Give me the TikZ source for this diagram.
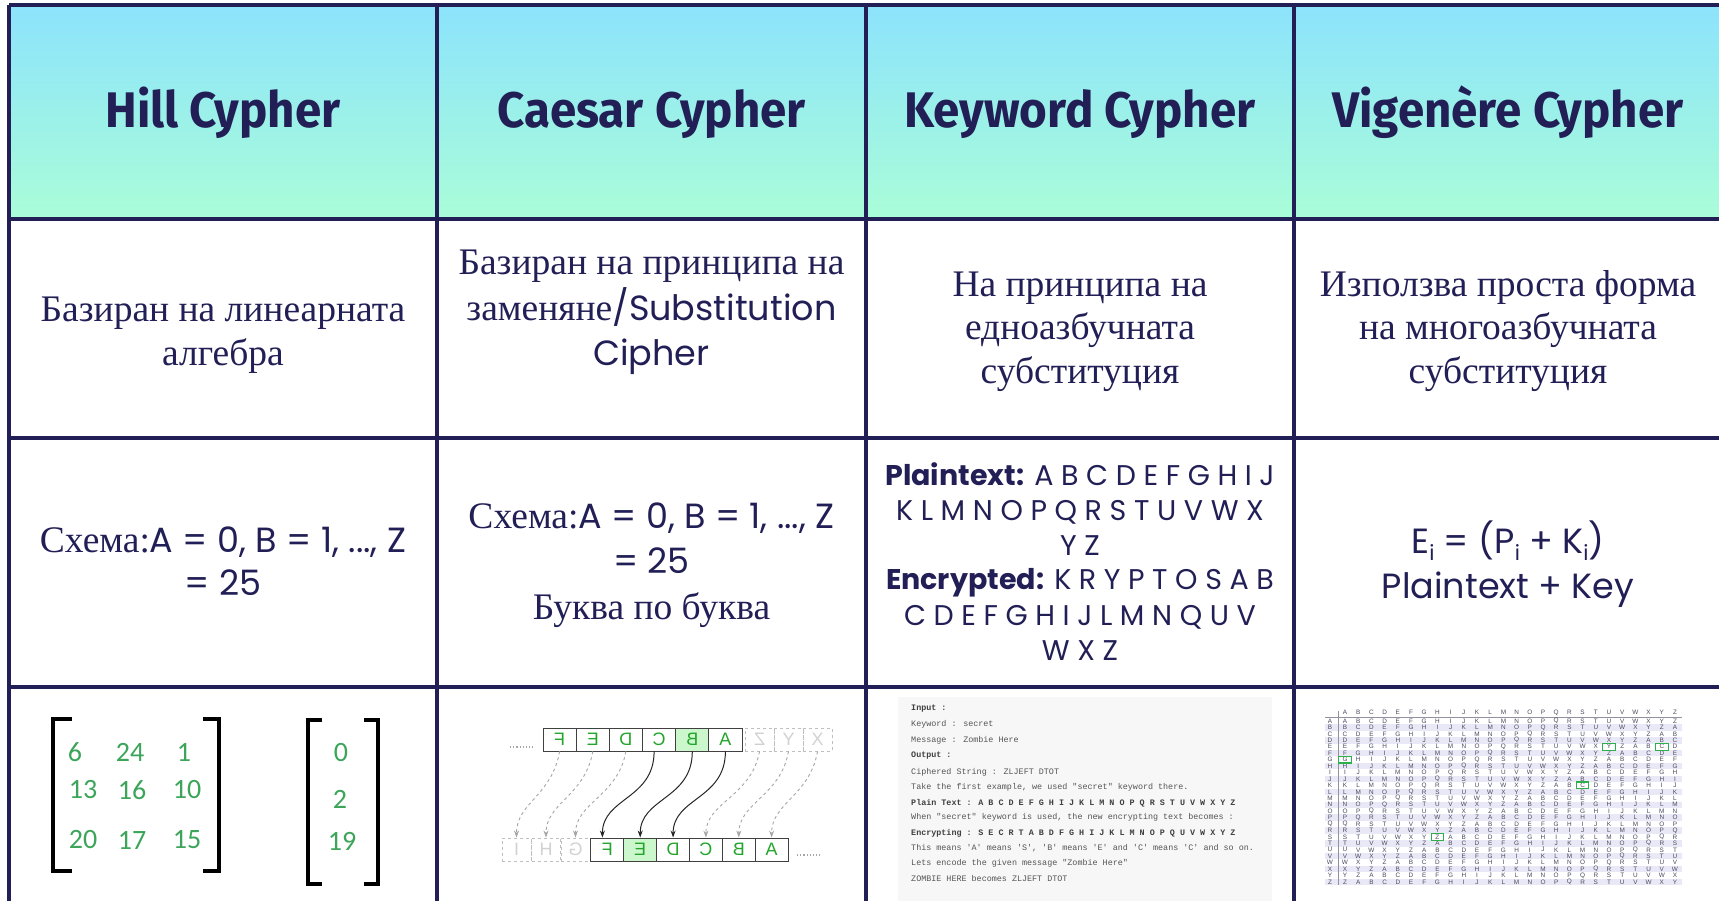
\documentclass[tikz,border=0pt]{standalone}
\usepackage{graphicx}
\usepackage{fontspec}
\setmainfont{Liberation Serif}
\newfontfamily\sansf{Poppins}
\newfontfamily\headf{Fira Sans}
\newfontfamily\monof{Liberation Mono}
\newfontfamily\tabf{Liberation Sans}
\newfontfamily\numf{Carlito}
\usetikzlibrary{arrows.meta}
\definecolor{navy}{HTML}{211F56}
\definecolor{hdtop}{HTML}{8CE3FC}
\definecolor{hdbot}{HTML}{AAFDD8}
\definecolor{hgreen}{HTML}{3CA55A}
\definecolor{cgreen}{HTML}{22A52A}
\definecolor{chl}{HTML}{CCF7CC}
\definecolor{kwbg}{HTML}{F7F7F7}
\definecolor{kwtxt}{HTML}{555555}
\definecolor{vshade}{HTML}{E8E8F6}
\definecolor{vtxt}{HTML}{4A4A5E}
\definecolor{vgreen}{HTML}{2DB04A}
\newcommand\ssz{\sansf\fontsize{35}{42}\selectfont}
\newcommand\subi{\raisebox{-7pt}{\fontsize{21}{21}\selectfont i}}
\newcommand\hx[1]{\scalebox{0.95}[1]{#1}}
\newcommand\sq{\char"27\relax}
\newcommand\dq{\char"22\relax}
\tikzset{
  vline/.style={draw=navy, line width=3.5pt},
  hline/.style={draw=navy, line width=4pt},
  head/.style={anchor=base, inner sep=0pt, text=navy, font=\headf\bfseries\fontsize{50}{60}\selectfont},
  serif/.style={anchor=base, inner sep=0pt, text=navy, font=\fontsize{37.5}{43}\selectfont},
  sans/.style={anchor=base, inner sep=0pt, text=navy, font=\ssz},
  kw/.style={anchor=base, inner sep=0pt, text=navy, font=\sansf\fontsize{28.5}{35}\selectfont},
  hnum/.style={inner sep=0pt, text=hgreen, font=\numf\fontsize{28}{28}\selectfont},
  bracket/.style={draw=black, line width=3.5pt, line join=miter},
  cbox/.style={draw=black!75, line width=0.9pt, minimum width=33.2pt, minimum height=23pt, inner sep=0pt, text=cgreen, font=\tabf\fontsize{18}{18}\selectfont},
  gbox/.style={draw=black!25, dashed, line width=0.9pt, minimum width=29pt, minimum height=23pt, inner sep=0pt, text=black!18, font=\tabf\fontsize{18}{18}\selectfont},
  carr/.style={draw=black!85, line width=1pt, -{Stealth[length=7pt,width=5pt]}},
  garr/.style={draw=black!35, dashed, line width=0.9pt, -{Stealth[length=7pt,width=5pt]}},
  mono/.style={anchor=west, inner sep=0pt, text=kwtxt, font=\monof\fontsize{8.4}{10}\selectfont},
  monob/.style={mono, text=black!75, font=\monof\bfseries\fontsize{8.4}{10}\selectfont},
  vt/.style={inner sep=0pt, text=vtxt, font=\tabf\fontsize{6.4}{6.4}\selectfont},
  vbox/.style={draw=vgreen, line width=1.1pt}
}
\begin{document}
\begin{tikzpicture}[x=1pt,y=-1pt]
\useasboundingbox (0,0) rectangle (1719,901);
\fill[white] (0,0) rectangle (1719,901);
% header gradient
\shade[top color=hdtop, bottom color=hdbot] (9,5) rectangle (1722,219);
% grid
\foreach \yy in {5,219,438,687} \draw[hline] (9,\yy) -- (1722,\yy);
\foreach \xx in {9,437,866,1294,1722} \draw[vline] (\xx,5) -- (\xx,910);
% headers
\node[head] (h1) at (223,128) {\hx{Hill Cypher}};
\node[head] (h2) at (651.5,128) {\hx{Caesar Cypher}};
\node[head] (h3) at (1080,128) {\hx{Keyword Cypher}};
\node[head] (h4) at (1508,128) {\hx{Vigenère Cypher}};
% row 2
\node[serif] (a1) at (223,322) {Базиран на линеарната};
\node[serif] (a2) at (223,365) {алгебра};
\node[serif] (b1) at (651.5,275) {Базиран на принципа на};
\node[serif] (b2) at (651.5,320) {заменяне{\ssz/Substitution}};
\node[sans] (b3) at (651.5,365) {Cipher};
\node[serif] (c1) at (1080,297) {На принципа на};
\node[serif] (c2) at (1080,340) {едноазбучната};
\node[serif] (c3) at (1080,383) {субституция};
\node[serif] (d1) at (1508,297) {Използва проста форма};
\node[serif] (d2) at (1508,340) {на многоазбучната};
\node[serif] (d3) at (1508,383) {субституция};
% row 3
\node[serif] (e1) at (223,552) {Схема:{\ssz A = 0, B = 1, ..., Z}};
\node[sans] (e2) at (223,595) {= 25};
\node[serif] (f1) at (651.5,528) {Схема:{\ssz A = 0, B = 1, ..., Z}};
\node[sans] (f2) at (651.5,573) {= 25};
\node[serif] (f3) at (651.5,619) {Буква по буква};
\node[kw] (g1) at (1080,485) {{\bfseries Plaintext:} A B C D E F G H I J};
\node[kw] (g2) at (1080,520) {K L M N O P Q R S T U V W X};
\node[kw] (g3) at (1080,555) {Y Z};
\node[kw] (g4) at (1080,589) {{\bfseries Encrypted:} K R Y P T O S A B};
\node[kw] (g5) at (1080,625) {C D E F G H I J L M N Q U V};
\node[kw] (g6) at (1080,660) {W X Z};
\node[sans] (i1) at (1508,553) {E\subi{} = (P\subi{} + K\subi)};
\node[sans] (i2) at (1508,598) {Plaintext + Key};
% ---- Hill matrix
\draw[bracket] (72,719) -- (53,719) -- (53,871) -- (72,871);
\draw[bracket] (203,719) -- (219,719) -- (219,871) -- (203,871);
\node[hnum] (m11) at (75,752) {6};
\node[hnum] (m12) at (130,752) {24};
\node[hnum] (m13) at (184,752) {1};
\node[hnum] (m21) at (83,790) {13};
\node[hnum] (m22) at (132,790) {16};
\node[hnum] (m23) at (187,790) {10};
\node[hnum] (m31) at (83,840) {20};
\node[hnum] (m32) at (132,840) {17};
\node[hnum] (m33) at (187,840) {15};
\draw[bracket] (322,720) -- (308,720) -- (308,884) -- (322,884);
\draw[bracket] (364,720) -- (378,720) -- (378,884) -- (364,884);
\node[hnum] (v1) at (341,753) {0};
\node[hnum] (v2) at (340,799) {2};
\node[hnum] (v3) at (342,841) {19};
% ---- Caesar diagram
\draw[dotted, black!35, line width=1.2pt] (510,747) -- (533,747);
\node[cbox] (tF) at (559.6,739.5) {\reflectbox{F}};
\node[cbox] (tE) at (592.8,739.5) {\reflectbox{E}};
\node[cbox] (tD) at (625.9,739.5) {\reflectbox{D}};
\node[cbox] (tC) at (659.1,739.5) {\reflectbox{C}};
\node[cbox, fill=chl] (tB) at (692.3,739.5) {\reflectbox{B}};
\node[cbox] (tA) at (725.4,739.5) {\reflectbox{A}};
\node[gbox] (tZ) at (759.5,739.5) {\reflectbox{Z}};
\node[gbox] (tY) at (788.5,739.5) {\reflectbox{Y}};
\node[gbox] (tX) at (817.5,739.5) {\reflectbox{X}};
\node[gbox] (bI) at (516.5,849.5) {\reflectbox{I}};
\node[gbox] (bH) at (546,849.5) {\reflectbox{H}};
\node[gbox] (bG) at (575.5,849.5) {\reflectbox{G}};
\node[cbox] (bF) at (607.4,849.5) {\reflectbox{F}};
\node[cbox, fill=chl] (bE) at (640.2,849.5) {\reflectbox{E}};
\node[cbox] (bD) at (673.1,849.5) {\reflectbox{D}};
\node[cbox] (bC) at (705.9,849.5) {\reflectbox{C}};
\node[cbox] (bB) at (738.8,849.5) {\reflectbox{B}};
\node[cbox] (bA) at (771.6,849.5) {\reflectbox{A}};
\draw[dotted, black!35, line width=1.2pt] (797,855) -- (820,855);
\draw[carr] ([xshift=-5pt]tC.south) .. controls +(0,48) and +(0,-40) .. ([xshift=-5pt]bF.north);
\draw[carr] (tB.south) .. controls +(0,48) and +(0,-40) .. (bE.north);
\draw[carr] (tA.south) .. controls +(0,48) and +(0,-40) .. (bD.north);
\draw[garr] (tF.south) .. controls +(-8,45) and +(0,-35) .. (bI.north);
\draw[garr] (tE.south) .. controls +(-8,45) and +(0,-35) .. (bH.north);
\draw[garr] (tD.south) .. controls +(-8,45) and +(0,-35) .. (bG.north);
\draw[garr] (tZ.south) .. controls +(-8,45) and +(0,-35) .. (bC.north);
\draw[garr] (tY.south) .. controls +(-8,45) and +(0,-35) .. (bB.north);
\draw[garr] (tX.south) .. controls +(-8,45) and +(0,-35) .. (bA.north);
% ---- Keyword example box
\fill[kwbg] (898,697) rectangle (1272,901);
\node[monob] (k1) at (911,709) {Input :};
\node[mono] (k2) at (911,724) {Keyword : secret};
\node[mono] (k3) at (911,740) {Message : Zombie Here};
\node[monob] (k4) at (911,756) {Output :};
\node[mono] (k5) at (911,772) {Ciphered String : ZLJEFT DTOT};
\node[mono] (k6) at (911,787) {Take the first example, we used \dq secret\dq{} keyword there.};
\node[monob] (k7) at (911,803) {Plain Text : A B C D E F G H I J K L M N O P Q R S T U V W X Y Z};
\node[mono] (k8) at (911,817) {When \dq secret\dq{} keyword is used, the new encrypting text becomes :};
\node[monob] (k9) at (911,833) {Encrypting : S E C R T A B D F G H I J K L M N O P Q U V W X Y Z};
\node[mono] (k10) at (911,848) {This means \sq A\sq{} means \sq S\sq, \sq B\sq{} means \sq E\sq{} and \sq C\sq{} means \sq C\sq{} and so on.};
\node[mono] (k11) at (911,863) {Lets encode the given message \dq Zombie Here\dq};
\node[mono] (k12) at (911,878) {ZOMBIE HERE becomes ZLJEFT DTOT};
% ---- Vigenere table
\foreach \r in {1,3,...,25} \fill[vshade] (1325,{717.8+6.44*\r}) rectangle (1682,{717.8+6.44*(\r+1)});
\draw[vtxt!60, line width=0.5pt] (1325,717.5) -- (1682,717.5);
\draw[vtxt!60, line width=0.5pt] (1338,711) -- (1338,885);
\foreach \c in {0,...,25} {
  \node[vt] (vh\c) at ({1345+13.2*\c},712.5) {\char\numexpr65+\c\relax};
  \node[vt] (vl\c) at (1330,{721+6.44*\c}) {\char\numexpr65+\c\relax};
}
\foreach \r in {0,...,25} {
  \foreach \c in {0,...,25} {
    \pgfmathtruncatemacro\L{mod(\r+\c,26)}
    \node[vt] (v\r-\c) at ({1345+13.2*\c},{721+6.44*\r}) {\char\numexpr65+\L\relax};
  }
}
\foreach \r/\c in {4/20,4/24,6/0,10/18,18/7}
  \draw[vbox] ({1345+13.2*\c-6.3},{721+6.44*\r-3.4}) rectangle ({1345+13.2*\c+6.3},{721+6.44*\r+3.4});
\end{tikzpicture}
\end{document}
